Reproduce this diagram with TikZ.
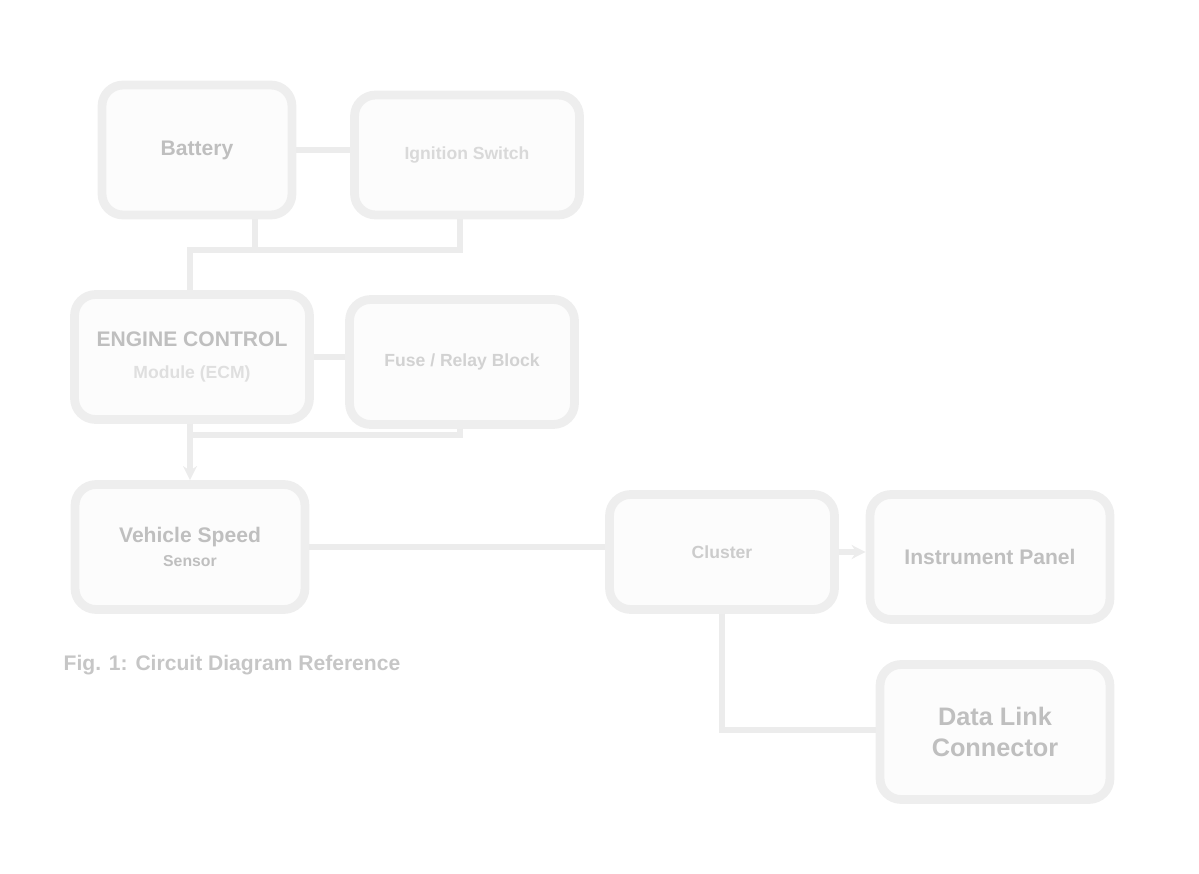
\documentclass[tikz,border=0pt]{standalone}
\usepackage{fontspec}
\setmainfont{Liberation Sans}
\usetikzlibrary{positioning,arrows.meta}
\tikzset{
  blk/.style={draw=gray!13, line width=5pt, rounded corners=12pt, fill=gray!2,
    inner sep=4pt, align=center, text=gray!50, font=\bfseries},
  wire/.style={draw=gray!15, line width=3pt},
  tip/.style={-{Stealth[length=8pt,width=8pt]}},
}
\begin{document}
\begin{tikzpicture}[x=0.02cm, y=-0.02cm]
  % page frame
  \useasboundingbox (0,0) rectangle (1199,874);

  % Upper left group
  \node[blk, minimum width=3.8cm, minimum height=2.6cm, font=\bfseries\large] (batt) at (197,150) {Battery};
  \node[blk, minimum width=4.5cm, minimum height=2.4cm, text=gray!30] (ign) at (467,155) {Ignition Switch};
  \node[blk, minimum width=4.7cm, minimum height=2.5cm, font=\bfseries\large] (ecm) at (192,357)
    {ENGINE CONTROL\\[4pt] {\normalsize\color{gray!25} Module (ECM)}};
  \node[blk, minimum width=4.5cm, minimum height=2.5cm, text=gray!35] (fuse) at (462,362) {Fuse / Relay Block};
  \node[blk, minimum width=4.6cm, minimum height=2.5cm, font=\bfseries\large] (vss) at (190,547)
    {Vehicle Speed\\ {\small Sensor}};

  % Lower right group
  \node[blk, minimum width=4.5cm, minimum height=2.3cm, text=gray!40] (clus) at (722,552) {Cluster};
  \node[blk, minimum width=4.8cm, minimum height=2.5cm, font=\bfseries\large] (ipc) at (990,557) {Instrument Panel};
  \node[blk, minimum width=4.6cm, minimum height=2.7cm, font=\bfseries\Large] (dlc) at (995,732) {Data Link\\ Connector};

  % Caption
  \node[text=gray!45, font=\bfseries\large] (cap) at (232,665) {Fig. 1: Circuit Diagram Reference};

  % Junction points
  \coordinate (j1) at (255,250);
  \coordinate (j2) at (460,250);
  \coordinate (j3) at (190,250);
  \coordinate (j4) at (190,435);
  \coordinate (j5) at (460,435);
  \coordinate (j6) at (722,730);

  % Wires
  \draw[wire] (batt.east) -- (batt.east -| ign.west);
  \draw[wire] (batt.south -| j1) -- (j1);
  \draw[wire] (ign.south -| j2) -- (j2) -- (j3) -- (ecm.north -| j3);
  \draw[wire] (ecm.east) -- (ecm.east -| fuse.west);
  \draw[wire] (fuse.south -| j5) -- (j5) -- (j4);
  \draw[wire, tip] (ecm.south -| j4) -- (vss.north -| j4);
  \draw[wire] (vss.east) -- (vss.east -| clus.west);
  \draw[wire, tip] (clus.east) -- (clus.east -| ipc.west);
  \draw[wire] (clus.south) -- (j6) -- (dlc.west |- j6);
\end{tikzpicture}
\end{document}
